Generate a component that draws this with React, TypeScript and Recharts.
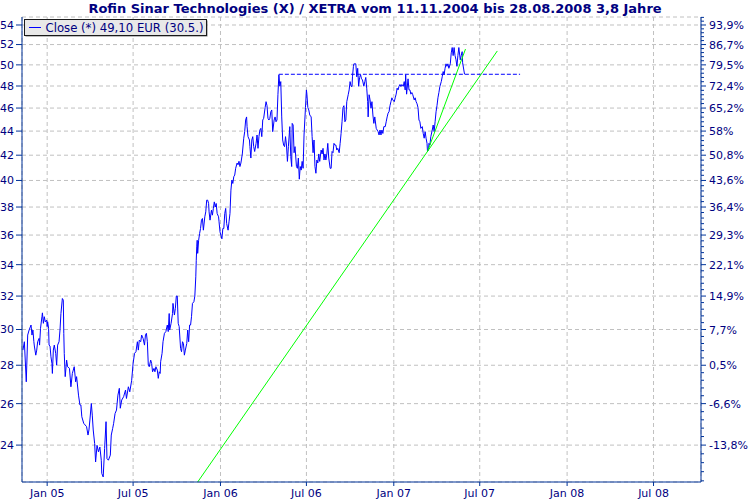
import React from 'react';
import { ComposedChart, Line, XAxis, YAxis, CartesianGrid } from 'recharts';

const FONT = '"DejaVu Sans", Verdana, sans-serif';
const AXIS = '#003399';
const LABEL = '#000080';

const chartTitle = 'Rofin Sinar Technologies (X) / XETRA vom 11.11.2004 bis 28.08.2008 3,8 Jahre';
const legendLabel = 'Close (*) 49,10 EUR (30.5.)';

const closeDates = [
  '2004-11-11','2004-11-14','2004-11-18','2004-11-21','2004-11-24','2004-11-28','2004-11-30',
  '2004-12-02','2004-12-04','2004-12-05','2004-12-08','2004-12-10','2004-12-12','2004-12-15','2004-12-16','2004-12-18','2004-12-21','2004-12-22','2004-12-24','2004-12-26','2004-12-28','2004-12-31',
  '2005-01-01','2005-01-02','2005-01-04','2005-01-05','2005-01-07','2005-01-09','2005-01-11','2005-01-12','2005-01-14','2005-01-16','2005-01-19','2005-01-21','2005-01-23','2005-01-26','2005-01-28','2005-01-30',
  '2005-02-02','2005-02-04','2005-02-05','2005-02-06','2005-02-08','2005-02-11','2005-02-13','2005-02-17','2005-02-20','2005-02-23','2005-02-27',
  '2005-03-02','2005-03-04','2005-03-08','2005-03-11','2005-03-13','2005-03-15','2005-03-19','2005-03-22','2005-03-25','2005-03-28','2005-03-30',
  '2005-04-01','2005-04-04','2005-04-06','2005-04-08','2005-04-11','2005-04-13','2005-04-16','2005-04-19','2005-04-22','2005-04-25','2005-04-26','2005-04-29',
  '2005-05-02','2005-05-05','2005-05-07','2005-05-10','2005-05-14','2005-05-16','2005-05-19','2005-05-21','2005-05-24','2005-05-27','2005-05-30',
  '2005-06-02','2005-06-04','2005-06-07','2005-06-11','2005-06-15','2005-06-17','2005-06-21','2005-06-24','2005-06-28',
  '2005-07-01','2005-07-04','2005-07-07','2005-07-10','2005-07-12','2005-07-14','2005-07-17','2005-07-19','2005-07-22','2005-07-25','2005-07-27','2005-07-29','2005-07-31',
  '2005-08-02','2005-08-04','2005-08-07','2005-08-09','2005-08-11','2005-08-14','2005-08-16','2005-08-18','2005-08-21','2005-08-23','2005-08-25','2005-08-27','2005-08-28','2005-08-31',
  '2005-09-02','2005-09-05','2005-09-08','2005-09-11','2005-09-13','2005-09-15','2005-09-16','2005-09-19','2005-09-22','2005-09-23','2005-09-26','2005-09-28','2005-09-30',
  '2005-10-02','2005-10-04','2005-10-06','2005-10-09','2005-10-11','2005-10-13','2005-10-15','2005-10-17','2005-10-19','2005-10-22','2005-10-24','2005-10-26','2005-10-28','2005-10-30',
  '2005-11-01','2005-11-03','2005-11-06','2005-11-08','2005-11-10','2005-11-11','2005-11-12','2005-11-13','2005-11-14','2005-11-16','2005-11-18','2005-11-20','2005-11-22','2005-11-24','2005-11-26','2005-11-29',
  '2005-12-01','2005-12-03','2005-12-05','2005-12-07','2005-12-08','2005-12-10','2005-12-13','2005-12-15','2005-12-17','2005-12-19','2005-12-21','2005-12-23','2005-12-25','2005-12-28','2005-12-29','2005-12-31',
  '2006-01-02','2006-01-04','2006-01-06','2006-01-08','2006-01-10','2006-01-12','2006-01-14','2006-01-17','2006-01-19','2006-01-21','2006-01-23','2006-01-25','2006-01-27','2006-01-29','2006-01-31',
  '2006-02-02','2006-02-05','2006-02-07','2006-02-09','2006-02-11','2006-02-13','2006-02-16','2006-02-19','2006-02-21','2006-02-23','2006-02-25','2006-02-26','2006-02-28',
  '2006-03-03','2006-03-04','2006-03-06','2006-03-08','2006-03-10','2006-03-12','2006-03-14','2006-03-17','2006-03-19','2006-03-21','2006-03-23','2006-03-25','2006-03-27','2006-03-29','2006-03-31',
  '2006-04-02','2006-04-05','2006-04-07','2006-04-09','2006-04-11','2006-04-13','2006-04-15','2006-04-17','2006-04-19','2006-04-21','2006-04-24','2006-04-26','2006-04-28','2006-04-30',
  '2006-05-02','2006-05-04','2006-05-06','2006-05-08','2006-05-10','2006-05-12','2006-05-14','2006-05-16','2006-05-18','2006-05-20','2006-05-22','2006-05-24','2006-05-27','2006-05-29','2006-05-31',
  '2006-06-01','2006-06-03','2006-06-05','2006-06-07','2006-06-10','2006-06-12','2006-06-14','2006-06-16','2006-06-18','2006-06-20','2006-06-22','2006-06-24','2006-06-26','2006-06-29',
  '2006-07-01','2006-07-02','2006-07-04','2006-07-06','2006-07-08','2006-07-11','2006-07-13','2006-07-15','2006-07-17','2006-07-19','2006-07-21','2006-07-23','2006-07-25','2006-07-27','2006-07-29',
  '2006-08-01','2006-08-03','2006-08-05','2006-08-07','2006-08-09','2006-08-11','2006-08-13','2006-08-15','2006-08-17','2006-08-20','2006-08-22','2006-08-24','2006-08-26','2006-08-28','2006-08-30',
  '2006-09-01','2006-09-03','2006-09-05','2006-09-08','2006-09-10','2006-09-12','2006-09-14','2006-09-16','2006-09-18','2006-09-20','2006-09-22','2006-09-24','2006-09-27','2006-09-29',
  '2006-10-01','2006-10-03','2006-10-05','2006-10-06','2006-10-08','2006-10-09','2006-10-11','2006-10-13','2006-10-15','2006-10-17','2006-10-19','2006-10-21','2006-10-23','2006-10-25','2006-10-27','2006-10-30',
  '2006-11-01','2006-11-03','2006-11-05','2006-11-07','2006-11-08','2006-11-10','2006-11-12','2006-11-14','2006-11-16','2006-11-18','2006-11-20','2006-11-22','2006-11-25','2006-11-27','2006-11-29',
  '2006-12-01','2006-12-03','2006-12-05','2006-12-07','2006-12-09','2006-12-11','2006-12-14','2006-12-16','2006-12-18','2006-12-20','2006-12-22','2006-12-24','2006-12-26','2006-12-28','2006-12-30',
  '2007-01-02','2007-01-04','2007-01-06','2007-01-08','2007-01-10','2007-01-12','2007-01-14','2007-01-16','2007-01-18','2007-01-21','2007-01-23','2007-01-25','2007-01-26','2007-01-28','2007-01-31',
  '2007-02-02','2007-02-04','2007-02-06','2007-02-08','2007-02-10','2007-02-13','2007-02-15','2007-02-17','2007-02-19','2007-02-21','2007-02-23','2007-02-25','2007-02-27',
  '2007-03-02','2007-03-04','2007-03-06','2007-03-08','2007-03-10','2007-03-12','2007-03-13','2007-03-15','2007-03-16','2007-03-18','2007-03-20','2007-03-23','2007-03-25','2007-03-27','2007-03-29','2007-03-31',
  '2007-04-02','2007-04-04','2007-04-06','2007-04-08','2007-04-11','2007-04-13','2007-04-15','2007-04-17','2007-04-19','2007-04-21','2007-04-23','2007-04-25','2007-04-27','2007-04-30',
  '2007-05-02','2007-05-04','2007-05-06','2007-05-08','2007-05-10','2007-05-12','2007-05-14','2007-05-16','2007-05-18','2007-05-21','2007-05-23','2007-05-25','2007-05-26','2007-05-30',
];

const closeValues = [
  28.83,29.30,27.12,29.68,29.97,30.26,29.68,
  29.97,29.30,29.06,28.55,28.83,29.30,29.49,29.11,30.07,30.75,30.98,30.36,30.75,30.45,30.55,
  30.17,30.45,30.07,29.11,29.06,28.46,28.10,27.56,28.83,29.11,28.65,28.00,29.11,29.30,29.97,30.94,
  31.85,31.75,29.78,28.65,27.39,28.28,27.92,27.83,26.86,27.56,27.92,
  27.12,27.39,26.43,25.93,25.93,25.35,25.03,24.95,24.87,24.47,24.71,
  25.19,26.01,25.43,24.71,24.07,23.23,23.99,23.69,23.91,23.31,22.72,22.57,
  23.84,25.11,23.38,23.31,23.54,24.47,24.79,25.03,25.51,25.68,26.43,
  26.78,25.77,26.18,26.35,26.69,26.26,26.86,26.60,27.20,
  28.10,28.65,28.74,29.30,28.83,29.39,29.30,29.68,29.49,29.11,29.68,29.78,29.30,
  28.00,27.92,28.28,28.10,27.65,27.83,27.65,27.92,27.74,27.30,27.65,27.56,28.19,28.65,
  29.30,29.78,29.88,30.26,29.88,30.94,29.97,30.36,30.94,31.55,30.85,31.25,32.00,
  32.00,30.36,30.17,28.92,28.74,29.30,29.20,28.55,28.83,29.20,29.97,29.30,30.26,30.26,
  30.75,31.55,31.65,32.00,33.21,34.29,35.19,35.64,34.75,35.64,36.10,36.46,37.05,37.17,36.34,37.29,
  37.65,38.51,38.51,38.26,37.65,37.05,37.77,37.41,37.90,38.38,38.00,38.26,37.53,37.29,36.93,36.22,
  35.98,35.74,36.46,36.46,37.53,37.90,36.81,36.34,36.93,37.53,39.26,40.03,39.77,40.29,40.42,
  40.95,41.37,41.23,41.51,41.09,41.37,42.10,43.40,43.95,44.95,45.22,44.38,43.53,
  43.25,42.70,41.77,43.25,43.53,42.70,42.30,42.97,43.67,42.56,43.53,44.09,44.23,43.53,44.95,
  45.10,46.04,46.57,46.21,45.10,44.95,45.10,45.67,45.83,43.95,44.95,45.22,44.80,44.95,
  47.20,49.06,47.98,48.41,45.22,43.25,42.83,42.70,43.53,42.83,41.50,42.70,44.38,41.90,41.09,
  44.66,44.52,42.20,42.70,41.09,40.95,41.77,40.10,41.09,40.81,41.50,40.95,43.67,46.04,
  47.64,47.25,46.04,45.83,45.39,45.22,43.53,42.20,43.25,41.09,40.56,41.61,41.37,42.10,41.50,
  42.42,42.10,42.56,41.61,42.10,41.61,42.10,42.97,41.77,40.95,40.95,42.30,42.20,42.97,42.83,
  42.83,42.42,42.56,42.20,42.97,43.80,44.80,46.04,46.21,44.80,44.95,46.57,47.20,47.64,
  48.41,47.98,47.95,48.86,49.86,50.10,50.10,50.10,48.86,49.67,47.98,48.80,49.06,48.67,48.57,47.98,
  48.41,48.80,47.80,46.57,45.22,47.20,46.73,45.98,46.57,45.39,44.66,45.22,44.23,44.09,43.95,
  43.67,44.09,43.67,44.09,43.80,44.38,44.38,44.80,45.22,45.55,45.67,46.21,46.57,46.92,46.73,
  46.57,46.92,47.25,47.80,47.64,47.98,48.14,47.95,48.14,47.98,48.41,47.64,49.06,47.25,48.67,
  47.64,47.64,47.25,47.40,47.20,46.73,46.92,46.57,46.38,46.04,44.95,44.80,44.23,
  44.38,43.80,43.40,43.95,43.40,42.97,42.30,42.42,42.97,42.83,43.53,44.09,44.52,43.95,44.80,45.67,
  46.21,46.92,47.40,47.95,48.41,48.86,49.36,49.06,49.67,50.10,49.86,50.10,49.67,50.10,
  51.17,51.70,50.90,51.70,50.90,50.49,49.86,50.90,51.70,50.49,50.90,51.29,50.20,49.10,
];

// Long-term trend line (green)
const trendLongDates = ['2005-11-14', '2007-08-07'];
const trendLongValues = [22.35, 51.36];
// Short-term trend line (green)
const trendShortDates = ['2007-03-13', '2007-06-01'];
const trendShortValues = [42.3, 51.55];
// Resistance line (dashed blue)
const resistanceDates = ['2006-05-04', '2007-09-24'];
const resistanceValues = [49.1, 49.1];

const yTicks = [24, 26, 28, 30, 32, 34, 36, 38, 40, 42, 44, 46, 48, 50, 52, 54];
const yPercentLabels = ['-13,8%', '-6,6%', '0,5%', '7,7%', '14,9%', '22,1%', '29,3%', '36,4%', '43,6%', '50,8%', '58%', '65,2%', '72,4%', '79,5%', '86,7%', '93,9%'];
const xTickDates = ['2005-01-01', '2005-07-01', '2006-01-01', '2006-07-01', '2007-01-01', '2007-07-01', '2008-01-01', '2008-07-01'];
const xTickLabels = ['Jan 05', 'Jul 05', 'Jan 06', 'Jul 06', 'Jan 07', 'Jul 07', 'Jan 08', 'Jul 08'];

const toT = (s: string) => {
  const [y, m, d] = s.split('-').map(Number);
  return Date.UTC(y, m - 1, d);
};

const xDomain = [toT('2004-11-09'), toT('2008-10-09')];
const yDomain = [22.35, 54.84];
const xTicks = xTickDates.map(toT);

const minorTicks: number[] = [];
for (let k = 56; k <= 137; k++) minorTicks.push(Math.round(k * 0.4 * 100) / 100);

const series = (dates: string[], values: number[]) => dates.map((d, i) => ({ t: toT(d), v: values[i] }));
const priceData = series(closeDates, closeValues);
const trendLongData = series(trendLongDates, trendLongValues);
const trendShortData = series(trendShortDates, trendShortValues);
const resistanceData = series(resistanceDates, resistanceValues);

const majorIndex = (v: number) => yTicks.findIndex((t) => Math.abs(t - v) < 1e-6);

const renderRightTick = (props: any) => {
  const { x, y, payload } = props;
  const idx = majorIndex(payload.value);
  const major = idx >= 0;
  return (
    <g>
      <line x1={x} x2={x + (major ? 5 : 3)} y1={y} y2={y} stroke={AXIS} />
      {major && (
        <text x={x + 8} y={y + 4} textAnchor="start" fill={LABEL} fontSize={11} fontFamily={FONT}>
          {yPercentLabels[idx]}
        </text>
      )}
    </g>
  );
};

const xLabel = (t: number) => {
  const i = xTicks.indexOf(t);
  return i >= 0 ? xTickLabels[i] : '';
};

export default function App() {
  return (
    <div style={{ position: 'absolute', left: 0, top: 0, width: 750, height: 500, background: '#fff' }}>
      <ComposedChart width={750} height={500} margin={{ top: 17, right: 0, bottom: 0, left: 0 }}>
        <CartesianGrid xAxisId="x" yAxisId="left" stroke="#c0c0c0" strokeDasharray="4 3" />
        <XAxis
          xAxisId="x"
          dataKey="t"
          type="number"
          domain={xDomain}
          allowDataOverflow
          ticks={xTicks}
          interval={0}
          height={18}
          tickSize={4}
          tickMargin={3}
          tickFormatter={xLabel}
          axisLine={{ stroke: AXIS }}
          tickLine={{ stroke: AXIS }}
          tick={{ fill: LABEL, fontSize: 11, fontFamily: FONT }}
        />
        <XAxis
          xAxisId="top"
          orientation="top"
          dataKey="t"
          type="number"
          domain={xDomain}
          allowDataOverflow
          height={0}
          tick={false}
          tickLine={false}
          axisLine={{ stroke: AXIS }}
        />
        <YAxis
          yAxisId="aMinor"
          orientation="left"
          width={0}
          scale="log"
          domain={yDomain}
          allowDataOverflow
          ticks={minorTicks}
          interval={0}
          tickSize={3}
          tick={false}
          tickLine={{ stroke: AXIS }}
          axisLine={false}
        />
        <YAxis
          yAxisId="left"
          orientation="left"
          width={22}
          scale="log"
          domain={yDomain}
          allowDataOverflow
          ticks={yTicks}
          interval={0}
          tickSize={6}
          tickMargin={2}
          tickLine={{ stroke: AXIS }}
          axisLine={{ stroke: AXIS }}
          tick={{ fill: LABEL, fontSize: 11, fontFamily: FONT }}
        />
        <YAxis
          yAxisId="right"
          orientation="right"
          width={49}
          scale="log"
          domain={yDomain}
          allowDataOverflow
          ticks={minorTicks}
          interval={0}
          tickSize={0}
          tickMargin={0}
          tickLine={false}
          axisLine={{ stroke: AXIS }}
          tick={renderRightTick}
        />
        <Line
          xAxisId="x"
          yAxisId="left"
          data={priceData}
          dataKey="v"
          type="linear"
          stroke="#0000ff"
          strokeWidth={1}
          dot={false}
          activeDot={false}
          isAnimationActive={false}
        />
        <Line
          xAxisId="x"
          yAxisId="left"
          data={resistanceData}
          dataKey="v"
          type="linear"
          stroke="#0000ff"
          strokeWidth={1}
          strokeDasharray="4 2"
          dot={false}
          activeDot={false}
          isAnimationActive={false}
        />
        <Line
          xAxisId="x"
          yAxisId="left"
          data={trendLongData}
          dataKey="v"
          type="linear"
          stroke="#00ff00"
          strokeWidth={1}
          dot={false}
          activeDot={false}
          isAnimationActive={false}
        />
        <Line
          xAxisId="x"
          yAxisId="left"
          data={trendShortData}
          dataKey="v"
          type="linear"
          stroke="#00ff00"
          strokeWidth={1}
          dot={false}
          activeDot={false}
          isAnimationActive={false}
        />
      </ComposedChart>
      <svg width={750} height={500} style={{ position: 'absolute', left: 0, top: 0, pointerEvents: 'none' }}>
        <text x={375} y={13} textAnchor="middle" fontFamily={FONT} fontWeight="bold" fontSize={13} fill={LABEL}>
          {chartTitle}
        </text>
        <rect x={25.5} y={20.5} width={182} height={16} fill="#7a7a7a" />
        <rect x={24.5} y={19.5} width={182} height={16} fill="#e8e8e8" stroke="#1a1a1a" />
        <line x1={29} x2={41} y1={27.5} y2={27.5} stroke="#0000ff" />
        <text x={45.5} y={32.2} fontFamily={FONT} fontSize={11.7} fill={LABEL}>
          {legendLabel}
        </text>
      </svg>
    </div>
  );
}
